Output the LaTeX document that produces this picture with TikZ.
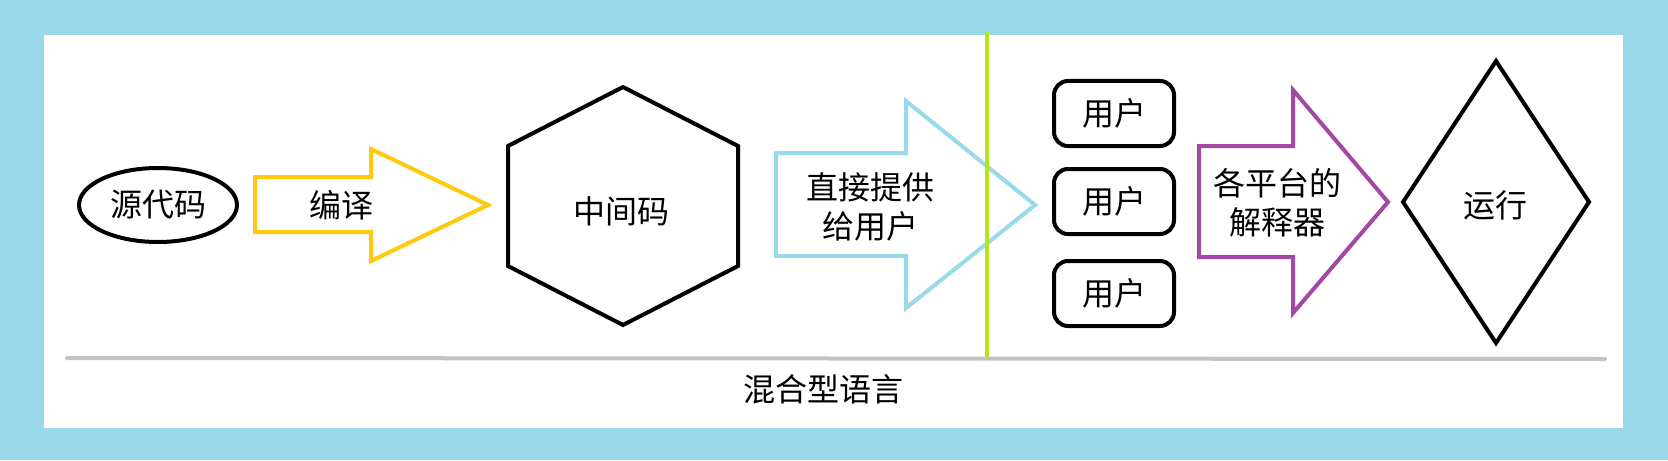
\documentclass[tikz,border=0pt]{standalone}
\usepackage{fontspec}
\setmainfont{Noto Sans CJK SC}
\definecolor{bgblue}{RGB}{153,217,234}
\definecolor{gold}{RGB}{255,201,14}
\definecolor{plum}{RGB}{163,73,164}
\definecolor{lime}{RGB}{181,230,29}
\definecolor{lgray}{RGB}{195,195,195}
\tikzset{
  outline/.style={draw=black, line width=2pt, line join=miter},
  blockarrow/.style={line width=2pt, line join=miter},
  lbl/.style={inner sep=0pt, align=center, font=\fontsize{16}{19.5}\selectfont},
  userbox/.style={draw=black, line width=2pt, rounded corners=7pt, minimum width=60pt, minimum height=32.5pt, inner sep=0pt, font=\fontsize{16}{19.5}\selectfont}
}
\begin{document}
\begin{tikzpicture}[x=0.5pt,y=-0.5pt]
\useasboundingbox (0,0) rectangle (1668,460);
\fill[bgblue] (0,0) rectangle (1668,460);
\fill[white] (44,35) rectangle (1623,428);

% source ellipse
\draw[outline] (158,205) ellipse [x radius=79, y radius=37];
\node[lbl] (src) at (158,205) {源代码};

% yellow block arrow
\draw[blockarrow, draw=gold] (255,177) -- (371,177) -- (371,149) -- (488,205) -- (371,261) -- (371,232) -- (255,232) -- cycle;
\node[lbl] (compile) at (341,205) {编译};

% hexagon
\draw[outline] (623,87) -- (738,146) -- (738,266) -- (623,325) -- (508,266) -- (508,146) -- cycle;
\node[lbl] (mid) at (621,211) {中间码};

% light blue block arrow
\draw[blockarrow, draw=bgblue] (776,153) -- (906,153) -- (906,101) -- (1035,205) -- (906,308) -- (906,256) -- (776,256) -- cycle;
\node[lbl] (give) at (870,207) {直接提供\\给用户};

% gray base line
\draw[lgray, line width=2pt, line cap=round] (67,358) -- (1605,359);
\coordinate (gtop) at (987,32);
\coordinate (gbot) at (987,357);
\draw[lime, line width=2pt] (gtop) -- (gbot);

% users
\node[userbox] (u1) at (1114,113.5) {用户};
\node[userbox] (u2) at (1114,201.5) {用户};
\node[userbox] (u3) at (1114,293.5) {用户};

% purple block arrow
\draw[blockarrow, draw=plum] (1199,146) -- (1293,146) -- (1293,90) -- (1388,202) -- (1293,313) -- (1293,257) -- (1199,257) -- cycle;
\node[lbl] (interp) at (1277,203) {各平台的\\解释器};

% diamond
\draw[outline] (1496,61) -- (1589,202) -- (1496,343) -- (1403,202) -- cycle;
\node[lbl] (run) at (1495,205) {运行};

% caption
\node[lbl] (cap) at (823,389) {混合型语言};
\end{tikzpicture}
\end{document}
